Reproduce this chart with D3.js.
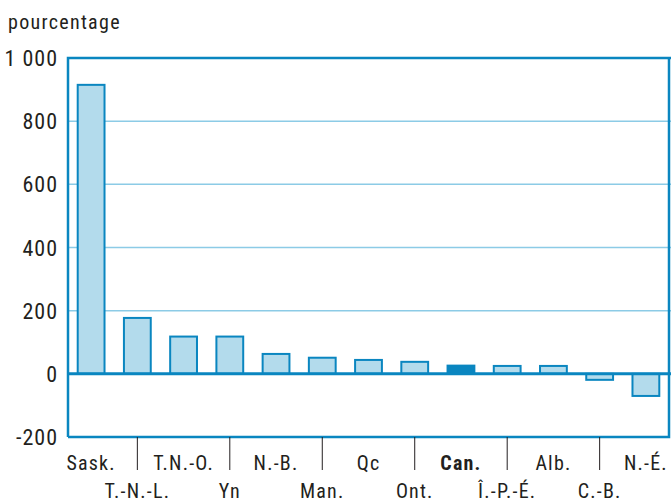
<!DOCTYPE html>
<html>
<head>
<meta charset="utf-8">
<script src="https://cdn.jsdelivr.net/npm/d3@7"></script>
<style>
  body { margin: 0; background: #fff; }
  text { font-family: "Liberation Sans Narrow", "Roboto Condensed", "Arial Narrow", "Liberation Sans", sans-serif; fill: #231f20; }
</style>
</head>
<body>
<svg id="chart" width="671" height="500"></svg>
<script>
// Province / territory labels, in order of the bars
const categories = ['Sask.', 'T.-N.-L.', 'T.N.-O.', 'Yn', 'N.-B.', 'Man.', 'Qc', 'Ont.', 'Can.', 'Î.-P.-É.', 'Alb.', 'C.-B.', 'N.-É.'];
// Percentage values
const values = [915, 177, 118, 118, 63, 51, 44, 38, 26, 25, 25, -19, -70];
const yTicks = [-200, 0, 200, 400, 600, 800, 1000];
const highlight = 'Can.';

const svg = d3.select('#chart');
const plotLeft = 68, plotRight = 669, plotTop = 58, plotBottom = 437;
const dark = '#0a86c0', light = '#b3dbec', grid = '#8ccbe6';

const x = d3.scaleBand().domain(categories).range([plotLeft, plotRight]).paddingInner(0.42).paddingOuter(0.21);
const y = d3.scaleLinear().domain([-200, 1000]).range([plotBottom, plotTop]);

// grid lines
svg.append('g').selectAll('line')
    .data(yTicks.filter(d => d > 0 && d < 1000))
    .enter().append('line')
    .attr('x1', plotLeft).attr('x2', 671)
    .attr('y1', d => y(d)).attr('y2', d => y(d))
    .attr('stroke', grid).attr('stroke-width', 1.5);

// bars
svg.append('g').selectAll('rect')
    .data(values)
    .enter().append('rect')
    .attr('x', (d, i) => x(categories[i]))
    .attr('width', x.bandwidth())
    .attr('y', d => y(Math.max(0, d)))
    .attr('height', d => Math.abs(y(d) - y(0)))
    .attr('fill', (d, i) => categories[i] === highlight ? dark : light)
    .attr('stroke', dark).attr('stroke-width', 2);

// zero line
svg.append('line')
    .attr('x1', plotLeft).attr('x2', 671)
    .attr('y1', y(0)).attr('y2', y(0))
    .attr('stroke', dark).attr('stroke-width', 3);

// frame
svg.append('path')
    .attr('d', `M${plotLeft},${plotBottom}V${plotTop}H671M${plotLeft},${plotBottom}H${plotRight}V${plotTop}`)
    .attr('fill', 'none').attr('stroke', dark).attr('stroke-width', 2.5);

// y tick labels (space as thousands separator, plain hyphen for minus)
const fmt = d3.formatLocale({ decimal: ',', thousands: ' ', grouping: [3], currency: ['', ''], minus: '-' }).format(',');
svg.append('g').selectAll('text')
    .data(yTicks)
    .enter().append('text')
    .attr('x', 58).attr('y', d => y(d) + 8)
    .attr('text-anchor', 'end')
    .attr('font-size', 22)
    .attr('letter-spacing', 1)
    .text(d => fmt(d));

svg.append('text')
    .attr('x', 8).attr('y', 29)
    .attr('font-size', 20).attr('letter-spacing', 1.3)
    .text('pourcentage');

// separator ticks under odd categories
svg.append('g').selectAll('line')
    .data(categories.filter((d, i) => i % 2 === 1))
    .enter().append('line')
    .attr('x1', d => x(d) + x.bandwidth() / 2).attr('x2', d => x(d) + x.bandwidth() / 2)
    .attr('y1', plotBottom).attr('y2', 470)
    .attr('stroke', '#231f20').attr('stroke-width', 1);

// category labels, two rows
svg.append('g').selectAll('text')
    .data(categories)
    .enter().append('text')
    .attr('x', d => x(d) + x.bandwidth() / 2)
    .attr('y', (d, i) => i % 2 === 0 ? 470 : 498)
    .attr('text-anchor', 'middle')
    .attr('font-size', 20).attr('letter-spacing', 1.2)
    .attr('font-weight', d => d === highlight ? 'bold' : 'normal')
    .text(d => d);
</script>
</body>
</html>
